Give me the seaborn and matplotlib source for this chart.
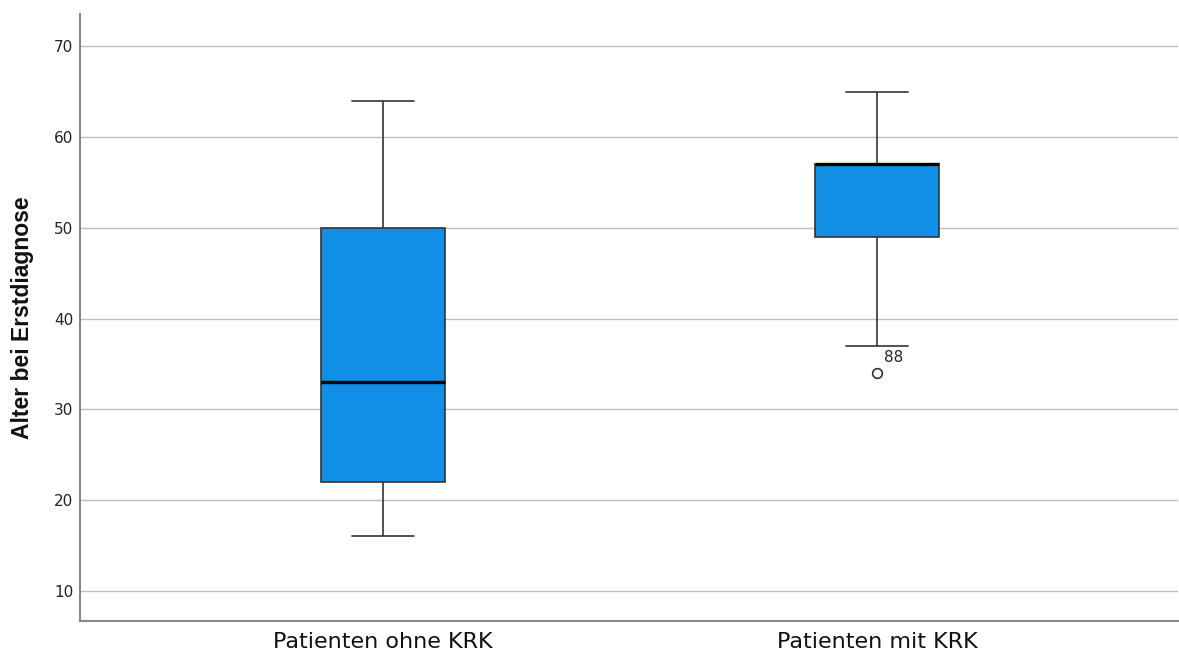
import matplotlib
matplotlib.use("Agg")
import matplotlib.pyplot as plt
import seaborn as sns
import pandas as pd
import numpy as np

# Data (ages at first diagnosis), chosen to reproduce the box statistics
groups = ["Patienten ohne KRK", "Patienten mit KRK"]
ages_ohne = [16, 22, 22, 33, 50, 50, 64]
ages_mit = [34, 37, 49, 50, 57, 57, 57, 60, 65]
outlier_label = "88"
y_ticks = [10, 20, 30, 40, 50, 60, 70]

df = pd.DataFrame({
    "Gruppe": [groups[0]] * len(ages_ohne) + [groups[1]] * len(ages_mit),
    "Alter": ages_ohne + ages_mit,
})

sns.set_theme(style="white")
plt.rcParams["font.family"] = ["DejaVu Sans"]

fig = plt.figure(figsize=(11.79, 6.55), dpi=100)
ax = fig.add_axes([0.068, 0.052, 0.931, 0.926])

ax.set_axisbelow(True)
ax.yaxis.grid(True, color="#BDBDBD", linewidth=1.0)

sns.boxplot(
    data=df, x="Gruppe", y="Alter", order=groups, ax=ax,
    color="#118FE6", saturation=1, width=0.25,
    linecolor="#333333", linewidth=1.2,
    medianprops=dict(color="black", linewidth=2.4),
    flierprops=dict(marker="o", markersize=7, markerfacecolor="white",
                    markeredgecolor="#333333", markeredgewidth=1.2),
)

# label the outlier with its case number
out_val = min(ages_mit)
ax.annotate(outlier_label, xy=(1, out_val), xytext=(5, 11.5), textcoords="offset points",
            fontsize=11, color="#222222", ha="left", va="center")

ax.set_xlim(-0.612, 1.608)
ax.set_ylim(6.7, 73.5)
ax.set_yticks(y_ticks)
ax.tick_params(axis="y", length=0, pad=5, labelsize=11, labelcolor="#222222")
ax.tick_params(axis="x", length=0, pad=8, labelsize=16, labelcolor="#111111")

ax.set_xlabel("")
ax.set_ylabel("Alter bei Erstdiagnose", fontsize=16.5, fontweight="bold",
              family=["Liberation Sans", "DejaVu Sans"], color="#111111", labelpad=14)

for s in ["top", "right"]:
    ax.spines[s].set_visible(False)
for s in ["left", "bottom"]:
    ax.spines[s].set_color("#888888")
    ax.spines[s].set_linewidth(1.5)

fig.savefig("out.png", dpi=100)
